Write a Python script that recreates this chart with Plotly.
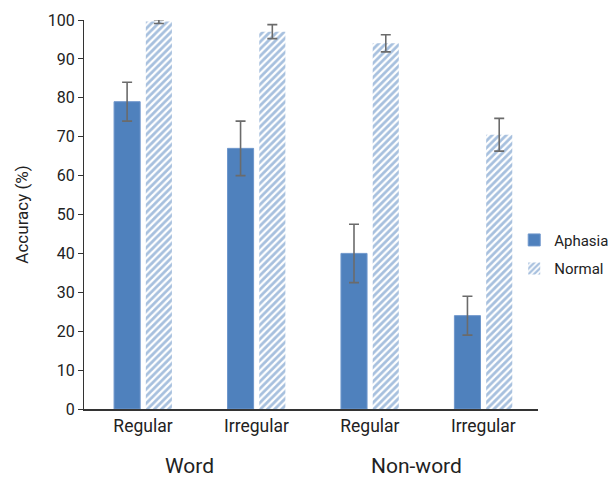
import plotly.graph_objects as go

categories = ["Regular", "Irregular", "Regular", "Irregular"]
groups = ["Word", "Non-word"]
aphasia = [79, 67, 40, 24]
aphasia_err = [5, 7, 7.5, 5]
normal = [99.6, 97, 94, 70.5]
normal_err = [0.5, 1.8, 2.2, 4.2]
y_ticks = [0, 10, 20, 30, 40, 50, 60, 70, 80, 90, 100]

x = list(range(len(categories)))
blue = "#4F81BD"
font_family = "Roboto, sans-serif"

fig = go.Figure()
fig.add_trace(go.Bar(
    x=x, y=aphasia, name="Aphasia", legendgroup="a",
    width=0.23, offset=-0.255,
    marker=dict(color=blue, line=dict(color="#6F97CC", width=1)),
    error_y=dict(type="data", array=aphasia_err, color="#6b6b6b", thickness=1.6, width=5),
))
fig.add_trace(go.Bar(
    x=x, y=normal, name="Normal", legendgroup="n",
    width=0.23, offset=0.025,
    marker=dict(color="white",
                pattern=dict(shape="/", fgcolor=blue, bgcolor="white", size=5, solidity=0.55),
                line=dict(color="white", width=0)),
    error_y=dict(type="data", array=normal_err, color="#6b6b6b", thickness=1.6, width=5),
))

for i, g in enumerate(groups):
    fig.add_annotation(x=2 * i + 0.41, y=-0.147, xref="x", yref="paper", text=g,
                       showarrow=False, font=dict(size=21, color="#222"), yanchor="middle")

fig.update_layout(
    width=608, height=478,
    margin=dict(l=84, r=0, t=20, b=69, autoexpand=False),
    paper_bgcolor="white", plot_bgcolor="white",
    font=dict(family=font_family, color="#222"),
    showlegend=True,
    legend=dict(x=0.821, y=0.398, xanchor="left", yanchor="middle",
                font=dict(size=15, color="#222"), itemwidth=30,
                traceorder="grouped", tracegroupgap=6,
                bgcolor="rgba(0,0,0,0)"),
    xaxis=dict(domain=[0, 0.866], tickvals=x, ticktext=categories, range=[-0.52, 3.48],
               showline=True, linecolor="#333", linewidth=1.5, ticks="",
               tickfont=dict(size=17.5, color="#222"), showgrid=False, zeroline=False),
    yaxis=dict(tickvals=y_ticks, range=[0, 100], showline=True, linecolor="#333", linewidth=1,
               ticks="outside", ticklen=5, tickcolor="#333",
               tickfont=dict(size=16, color="#222"), showgrid=False, zeroline=False,
               title=dict(text="Accuracy (%)", font=dict(size=17, color="#222"), standoff=14)),
)

fig.write_html("out.html", config={"displayModeBar": False},
               post_script="document.body.style.margin='0';")
